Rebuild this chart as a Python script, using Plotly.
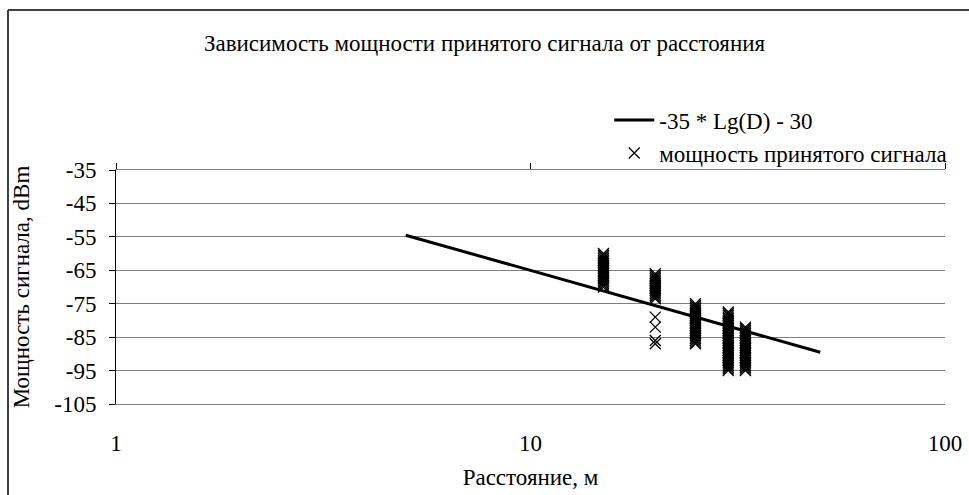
import plotly.graph_objects as go

# Model curve values (-35*Lg(D)-30)
line_d = [5, 10, 15, 20, 25, 30, 33, 50]
line_p = [-54.5, -65.0, -71.2, -75.5, -78.9, -81.7, -83.1, -89.5]

# Measured received power, grouped by distance (m)
p15 = [-60, -60.5, -61, -61.5, -62, -62.5, -63, -63.5, -64, -64.5, -65, -65.5,
       -66, -66.5, -67, -67.5, -68, -68.5, -69, -69.5, -70]
p20 = [-66, -66.5, -67, -67.5, -68, -68.5, -69, -69.5, -70, -70.5, -71, -71.5,
       -72, -72.5, -73, -73.5, -79, -82, -86, -87]
p25 = [-75, -75.5, -76, -76.5, -77, -77.5, -78, -78.5, -79, -79.5, -80, -80.5,
       -81, -81.5, -82, -82.5, -83, -83.5, -84, -84.5, -85, -85.5, -86, -86.5, -87]
p30 = [-77.5, -78, -78.5, -79, -79.5, -80, -80.5, -81, -81.5, -82, -82.5, -83,
       -83.5, -84, -84.5, -85, -85.5, -86, -86.5, -87, -87.5, -88, -88.5, -89,
       -89.5, -90, -90.5, -91, -91.5, -92, -92.5, -93, -93.5, -94, -94.5, -95]
p33 = [-82, -82.5, -83, -83.5, -84, -84.5, -85, -85.5, -86, -86.5, -87, -87.5,
       -88, -88.5, -89, -89.5, -90, -90.5, -91, -91.5, -92, -92.5, -93, -93.5,
       -94, -94.5, -95]

groups = [(15, p15), (20, p20), (25, p25), (30, p30), (33, p33)]
meas_d = []
meas_p = []
for d, vals in groups:
    meas_d += [d] * len(vals)
    meas_p += vals

x_ticks = [1, 10, 100]
y_ticks = [-35, -45, -55, -65, -75, -85, -95, -105]

FONT = "Liberation Serif, Times New Roman, serif"
FS = 23

fig = go.Figure()
fig.add_trace(go.Scatter(
    x=line_d, y=line_p, mode="lines", name="-35 * Lg(D) - 30",
    line=dict(color="black", width=3), xaxis="x", yaxis="y"))
fig.add_trace(go.Scatter(
    x=meas_d, y=meas_p, mode="markers", name="мощность принятого сигнала",
    marker=dict(symbol="x-thin-open", size=11, color="black",
                line=dict(color="black", width=1.3)), xaxis="x", yaxis="y"))
# invisible trace to activate the top axis
fig.add_trace(go.Scatter(x=[1, 100], y=[-105, -35], mode="markers",
                         marker=dict(opacity=0), showlegend=False,
                         hoverinfo="skip", xaxis="x2", yaxis="y"))

fig.update_layout(
    width=969, height=495,
    margin=dict(l=116, r=24, t=170, b=91),
    paper_bgcolor="white", plot_bgcolor="white",
    font=dict(family=FONT, size=FS, color="black"),
    title=dict(text="Зависимость мощности принятого сигнала от расстояния",
               x=0.5, xanchor="center", y=1 - 43 / 495, yanchor="middle",
               font=dict(family=FONT, size=FS, color="black")),
    showlegend=True,
    legend=dict(x=0.595, y=1.305, xanchor="left", yanchor="top",
                bgcolor="rgba(0,0,0,0)", font=dict(family=FONT, size=FS),
                tracegroupgap=0, itemwidth=40),
    xaxis=dict(type="log", range=[0, 2], tickvals=x_ticks,
               ticktext=[str(v) for v in x_ticks],
               showgrid=False, zeroline=False, ticks="",
               showline=True, linecolor="#808080", linewidth=1,
               ticklabelstandoff=18, automargin=False,
               title=dict(text="Расстояние, м", standoff=14,
                          font=dict(family=FONT, size=FS))),
    xaxis2=dict(type="log", range=[0, 2], overlaying="x", side="top",
                tickvals=x_ticks, showticklabels=False, showgrid=False,
                zeroline=False, ticks="outside", ticklen=6, tickcolor="black",
                showline=True, linecolor="#808080", linewidth=1,
                automargin=False),
    yaxis=dict(range=[-105, -35], tickvals=y_ticks,
               ticktext=[str(v) for v in y_ticks],
               showgrid=True, gridcolor="#808080", gridwidth=1,
               zeroline=False, ticks="outside", ticklen=6, tickcolor="black",
               showline=True, linecolor="black", linewidth=1,
               ticklabelstandoff=8, automargin=False,
               title=dict(text="Мощность сигнала, dBm", standoff=18,
                          font=dict(family=FONT, size=FS))),
)

# outer chart frame (top and left edges visible)
fig.add_shape(type="line", xref="paper", yref="paper",
              x0=(8 - 116) / 829, x1=1.1, y0=(404 - 10) / 234, y1=(404 - 10) / 234,
              line=dict(color="#404040", width=2))
fig.add_shape(type="line", xref="paper", yref="paper",
              x0=(8 - 116) / 829, x1=(8 - 116) / 829, y0=-0.5, y1=(404 - 10) / 234,
              line=dict(color="#404040", width=2))

fig.write_html(
    "out.html",
    config={"displayModeBar": False},
    post_script="document.body.style.margin='0';document.body.style.overflow='hidden';",
)
